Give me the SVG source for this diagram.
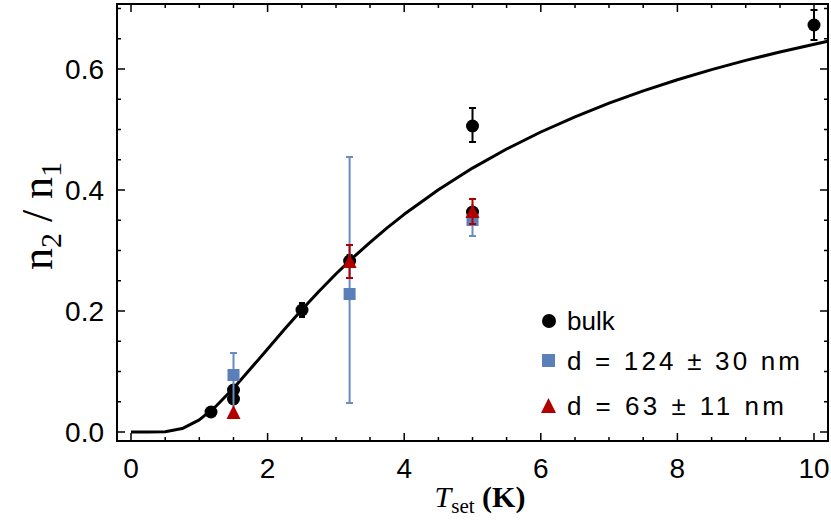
<svg xmlns="http://www.w3.org/2000/svg" width="831" height="527" viewBox="0 0 831 527">
<style>
.t{font-family:"Liberation Sans",Arial,sans-serif;font-size:28px;fill:#000}
.lg{font-family:"Liberation Sans",Arial,sans-serif;font-size:26px;fill:#000}
.s{font-family:"Liberation Serif","Times New Roman",serif;fill:#000}
.tk{stroke:#000;stroke-width:1.5}
.eb{stroke:#000;stroke-width:2}
.ebb{stroke:#6a8cc4;stroke-width:2}
.ebr{stroke:#b00000;stroke-width:2}
</style>
<rect width="831" height="527" fill="#fff"/>
<g id="frame">
<rect x="117" y="4" width="711" height="437" fill="none" stroke="#000" stroke-width="2"/>
<path class="tk" d="M131,441v-8M267.6,441v-8M404.2,441v-8M540.8,441v-8M677.4,441v-8M814,441v-8M131,4v8M267.6,4v8M404.2,4v8M540.8,4v8M677.4,4v8M814,4v8
M165.2,441v-4M199.3,441v-4M233.5,441v-4M301.8,441v-4M336,441v-4M370,441v-4M438.4,441v-4M472.5,441v-4M506.6,441v-4M575,441v-4M609,441v-4M643.2,441v-4M711.6,441v-4M745.7,441v-4M780,441v-4
M165.2,4v4M199.3,4v4M233.5,4v4M301.8,4v4M336,4v4M370,4v4M438.4,4v4M472.5,4v4M506.6,4v4M575,4v4M609,4v4M643.2,4v4M711.6,4v4M745.7,4v4M780,4v4
M117,432h8M117,311h8M117,190h8M117,69h8M828,432h-8M828,311h-8M828,190h-8M828,69h-8
M117,401.8h4M117,371.5h4M117,341.3h4M117,280.8h4M117,250.5h4M117,220.3h4M117,159.8h4M117,129.5h4M117,99.3h4M117,38.8h4M117,8.5h4
M828,401.8h-4M828,371.5h-4M828,341.3h-4M828,280.8h-4M828,250.5h-4M828,220.3h-4M828,159.8h-4M828,129.5h-4M828,99.3h-4M828,38.8h-4M828,8.5h-4"/>
</g>
<g id="labels">
<text class="t" x="104" y="442" text-anchor="end">0.0</text>
<text class="t" x="104" y="321" text-anchor="end">0.2</text>
<text class="t" x="104" y="200" text-anchor="end">0.4</text>
<text class="t" x="104" y="79" text-anchor="end">0.6</text>
<text class="t" x="131" y="478" text-anchor="middle">0</text>
<text class="t" x="267.6" y="478" text-anchor="middle">2</text>
<text class="t" x="404.2" y="478" text-anchor="middle">4</text>
<text class="t" x="540.8" y="478" text-anchor="middle">6</text>
<text class="t" x="677.4" y="478" text-anchor="middle">8</text>
<text class="t" x="814" y="478" text-anchor="middle">10</text>
<text class="s" font-size="44" transform="translate(52,216) rotate(-90)" text-anchor="middle">n<tspan font-size="30" dy="9">2</tspan><tspan dy="-9"> / n</tspan><tspan font-size="30" dy="9">1</tspan></text>
<text class="s" font-size="30" x="480" y="507" text-anchor="middle"><tspan font-style="italic">T</tspan><tspan font-size="21" dy="6">set</tspan><tspan dy="-6" font-weight="bold"> (K)</tspan></text>
</g>
<g id="connectors">
<path d="M131,432 L148,432 L165.2,431.7 L182.2,428.6 L199.3,419.9 L216.4,405.8 L233.5,388.3 L250.5,368.8 L267.6,348.9 L284.7,329.1 L301.8,309.8 L318.8,291.5 L335.9,274 L353,257.6 L370.1,242.3 L387.1,227.9 L404.2,214.3 L438.4,189.8 L472.5,168.1 L506.6,149 L540.8,132 L575,116.8 L609.1,103.2 L643.3,90.9 L677.4,79.8 L711.6,69.6 L745.7,60.4 L779.9,52 L827.7,41.3" fill="none" stroke="#000" stroke-width="3" stroke-linejoin="round"/>
</g>
<g id="bulk">
<path class="eb" d="M302,303v14M299,303h6M299,317h6M349.6,255v12M346.6,255h6M346.6,267h6M472.5,108v34M469,108h7M469,142h7M814,10v30M810.5,10h7M810.5,40h7"/>
<circle cx="211" cy="412" r="6.5"/>
<circle cx="233.5" cy="399" r="6.5"/>
<circle cx="233.5" cy="390" r="6.5"/>
<circle cx="302" cy="310" r="6.5"/>
<circle cx="349.6" cy="261" r="6.5"/>
<circle cx="472.5" cy="126" r="6.5"/>
<circle cx="472.5" cy="212" r="6.5"/>
<circle cx="814" cy="25" r="6.5"/>
</g>
<g id="d124">
<path class="ebb" d="M233.5,353v55M230,353h7M349.6,157v246M346,157h7M346,403h7M472.5,204v32M469,236h7"/>
<rect x="227.5" y="369" width="12" height="12" fill="#5b7fb8"/>
<rect x="343.6" y="288" width="12" height="12" fill="#5b7fb8"/>
<rect x="466.5" y="214" width="12" height="12" fill="#5b7fb8"/>
</g>
<g id="d63">
<path class="ebr" d="M349.6,245v33M346,245h7M346,278h7M472.5,199v25M469,199h7M469,224h7"/>
<polygon points="233.5,405 240.5,419 226.5,419" fill="#b00000"/>
<polygon points="349.6,254 356.6,268 342.6,268" fill="#b00000"/>
<polygon points="472.5,204 479.5,218 465.5,218" fill="#b00000"/>
</g>
<g id="legend">
<circle cx="549" cy="321" r="7"/>
<text class="lg" x="567" y="330">bulk</text>
<rect x="542" y="354" width="13" height="13" fill="#5b7fb8"/>
<text class="lg" x="567" y="370" textLength="233" lengthAdjust="spacing">d = 124 ± 30 nm</text>
<polygon points="548.5,398 556,413 541,413" fill="#b00000"/>
<text class="lg" x="567" y="415" textLength="217" lengthAdjust="spacing">d = 63 ± 11 nm</text>
</g>
</svg>
